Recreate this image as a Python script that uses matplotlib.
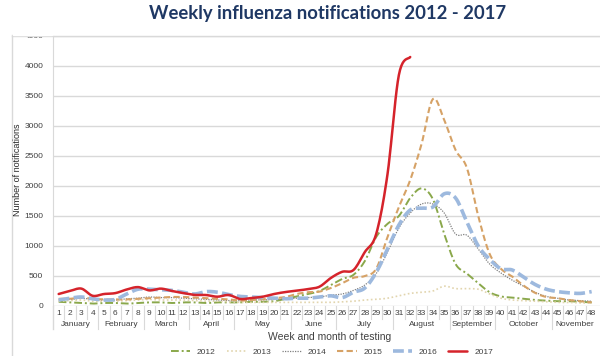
import numpy as np
import matplotlib
matplotlib.use("Agg")
from matplotlib import pyplot as plt
from matplotlib import transforms
from matplotlib.patches import Rectangle

# weekly notifications
weeks = list(range(1, 49))
y2012 = [70, 60, 50, 40, 50, 50, 40, 50, 60, 60, 50, 60, 60, 50, 60, 60, 60, 70, 70, 80, 120, 160, 200, 250,
         350, 450, 520, 750, 1150, 1370, 1500, 1800, 1960, 1780, 1200, 700, 540, 380, 230, 160, 140, 120, 100, 90, 80, 80, 70, 60]
y2013 = [80, 90, 100, 80, 80, 80, 90, 100, 110, 100, 100, 100, 90, 80, 80, 70, 60, 60, 60, 60, 60, 60, 60, 60,
         60, 70, 80, 100, 110, 130, 170, 210, 230, 250, 330, 290, 290, 280, 200, 130, 100, 90, 80, 70, 60, 60, 50, 50]
y2014 = [100, 110, 130, 110, 100, 100, 120, 130, 150, 140, 140, 130, 120, 110, 100, 90, 90, 100, 100, 110, 120, 130, 140, 150,
         180, 200, 260, 350, 540, 900, 1300, 1550, 1700, 1700, 1550, 1200, 1180, 950, 700, 550, 430, 330, 230, 160, 130, 100, 90, 80]
y2015 = [120, 120, 140, 120, 110, 110, 110, 120, 130, 140, 150, 150, 140, 130, 120, 110, 90, 100, 110, 130, 150, 200, 230, 240,
         300, 380, 470, 500, 620, 1150, 1650, 2100, 2700, 3450, 3100, 2600, 2300, 1500, 870, 620, 490, 340, 220, 150, 130, 100, 80, 60]
y2016 = [100, 130, 150, 120, 100, 110, 200, 280, 280, 270, 260, 230, 200, 240, 230, 190, 160, 150, 140, 130, 120, 130, 130, 150,
         170, 140, 230, 300, 560, 950, 1350, 1600, 1630, 1650, 1870, 1800, 1400, 1000, 780, 620, 600, 480, 360, 280, 240, 220, 210, 240]
y2017 = [200, 250, 290, 170, 200, 215, 275, 315, 260, 290, 250, 215, 185, 183, 155, 183, 117, 133, 155, 200, 233, 255, 283, 322,
         467, 570, 600, 900, 1200, 2200, 3850, 4150]

months = ["January", "February", "March", "April", "May", "June", "July",
          "August", "September", "October", "November"]
month_first = [1, 5, 9, 13, 17, 22, 26, 31, 36, 40, 45]
month_last = [4, 8, 12, 16, 21, 25, 30, 35, 39, 44, 48]


def smooth(xs, ys, n=10):
    # catmull-rom, like excel's smoothed line
    P = np.column_stack([np.asarray(xs, float), np.asarray(ys, float)])
    P = np.vstack([P[0], P, P[-1]])
    t = np.linspace(0, 1, n, endpoint=False)[:, None]
    out = []
    for i in range(1, len(P) - 2):
        p0, p1, p2, p3 = P[i - 1], P[i], P[i + 1], P[i + 2]
        out.append(0.5 * (2 * p1 + (-p0 + p2) * t + (2 * p0 - 5 * p1 + 4 * p2 - p3) * t ** 2
                          + (-p0 + 3 * p1 - 3 * p2 + p3) * t ** 3))
    out.append(P[-2][None, :])
    s = np.vstack(out)
    return s[:, 0], s[:, 1]


W, H = 600, 356
fig = plt.figure(figsize=(6, 3.56), dpi=100)
plt.rcParams['font.family'] = ['Liberation Sans', 'DejaVu Sans']

ax = fig.add_axes([53 / W, 1 - 306 / H, (W - 53) / W, 270 / H])
ax.set_xlim(0.5, 0.5 + (W - 53) / 11.34)
ax.set_ylim(0, 4500)

series = [
    ("2012", y2012, "#8AA84B", 1.4, (0, (4, 1.5, 1, 1.5))),
    ("2013", y2013, "#E2D5AE", 1.2, (0, (1, 1.5))),
    ("2014", y2014, "#808080", 0.9, (0, (1, 1))),
    ("2015", y2015, "#D6A266", 1.5, (0, (3, 1.6))),
    ("2016", y2016, "#9DB9DE", 2.6, (0, (3, 1.2))),
    ("2017", y2017, "#D5232B", 1.8, "-"),
]
for name, vals, col, lw, ls in series:
    sx, sy = smooth(weeks[:len(vals)], vals)
    ax.plot(sx, sy, color=col, lw=lw, ls=ls, label=name, solid_capstyle="round")

ax.set_yticks(np.arange(0, 4501, 500))
ax.set_yticklabels([str(v) for v in range(0, 4501, 500)])
ax.yaxis.grid(True, color="#D9D9D9", lw=1)
ax.set_axisbelow(True)
ax.tick_params(axis="y", length=0, pad=7, labelsize=6, labelcolor="#404040")
ax.set_xticks(weeks)
ax.set_xticklabels([str(w) for w in weeks])
ax.tick_params(axis="x", length=0, pad=3, labelsize=6, labelcolor="#404040")
for s in ["top", "right", "bottom"]:
    ax.spines[s].set_visible(False)
ax.spines["left"].set_color("#D9D9D9")

trans = transforms.blended_transform_factory(ax.transData, ax.transAxes)
ax.plot([0.5, 0.5], [0, -23 / 270], color="#D9D9D9", lw=1, transform=trans, clip_on=False)
for w in weeks[:-1]:
    low = -23 / 270 if (w + 1) in month_first else -13 / 270
    ax.plot([w + 0.5, w + 0.5], [0, low], color="#D9D9D9", lw=0.8, transform=trans, clip_on=False)
for m, a, b in zip(months, month_first, month_last):
    ax.text((a + b) / 2, -18 / 270, m, transform=trans, ha="center", va="center",
            fontsize=6, color="#404040")

# outer chart frame (cropped)
fig.add_artist(plt.Line2D([12 / W, 12 / W], [0, 1 - 35 / H], color="#D9D9D9", lw=1))
fig.add_artist(plt.Line2D([12 / W, 1], [1 - 36 / H, 1 - 36 / H], color="#D9D9D9", lw=1))
fig.add_artist(Rectangle((13 / W, 1 - 35 / H), 39 / W, 10 / H, color="white", zorder=10))

fig.text(328 / W, 1 - 14 / H, "Weekly influenza notifications 2012 - 2017", ha="center", va="center",
         fontsize=13.3, fontweight="bold", color="#1F3864", family=["Lato", "DejaVu Sans"])
fig.text(18 / W, 1 - 170 / H, "Number of notifications", rotation=90, ha="center", va="center",
         fontsize=6.5, color="#262626", family=["Liberation Sans Narrow", "Liberation Sans"])
fig.text(330 / W, 1 - 337 / H, "Week and month of testing", ha="center", va="center",
         fontsize=7.5, color="#404040")

fig.legend(loc="center", bbox_to_anchor=(332 / W, 1 - 352 / H), ncol=6, frameon=False,
           fontsize=6, handlelength=2.3, handletextpad=0.8, columnspacing=1.3,
           labelcolor="#404040")

fig.savefig("out.png", dpi=100)
